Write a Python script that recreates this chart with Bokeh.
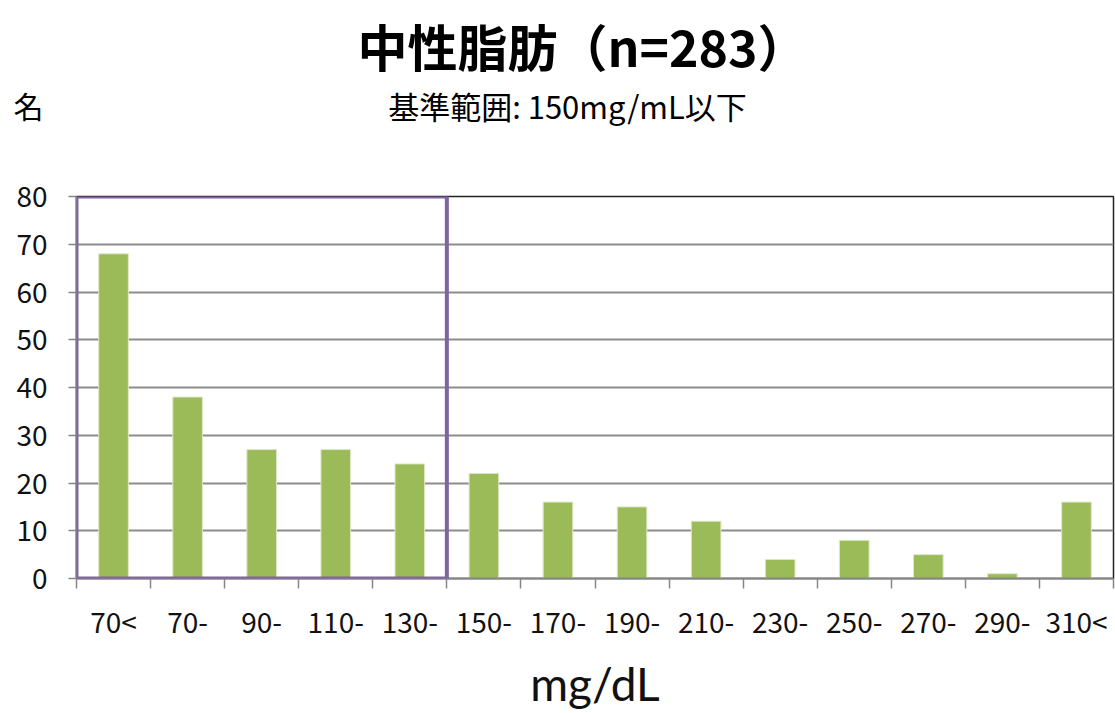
from bokeh.plotting import figure
from bokeh.models import Range1d, FixedTicker, BoxAnnotation, ColumnDataSource, Title
from bokeh.layouts import column
from bokeh.core.properties import value
from bokeh.embed import file_html
from bokeh.resources import INLINE

categories = ["70<", "70-", "90-", "110-", "130-", "150-", "170-", "190-", "210-", "230-", "250-", "270-", "290-", "310<"]
counts = [68, 38, 27, 27, 24, 22, 16, 15, 12, 4, 8, 5, 1, 16]
y_ticks = [0, 10, 20, 30, 40, 50, 60, 70, 80]
title_text = "中性脂肪（n=283）"
subtitle_text = "基準範囲: 150mg/mL以下"
y_unit = "名"
x_unit = "mg/dL"
ref_limit_category = "150-"

JP = "Noto Sans CJK JP"
NUM = "Noto Sans CJK JP"

W = 1115
LEFT, RIGHT = 76, 2
HEAD_TOP = 80
HEAD_H = 128

# ---------- header: main title (Title), subtitle (glyph), unit (axis label) ----------
head = figure(width=W, height=HEAD_H, output_backend="svg", toolbar_location=None,
              x_range=Range1d(LEFT, W - RIGHT), y_range=Range1d(HEAD_H, HEAD_TOP),
              min_border_left=LEFT, min_border_right=RIGHT,
              min_border_top=HEAD_TOP, min_border_bottom=0, x_axis_type=None)
head.outline_line_color = None
head.grid.grid_line_color = None
head.background_fill_color = "white"
head.border_fill_color = "white"
head.title = None
head.add_layout(Title(text=title_text, text_font=JP, text_font_size="50px",
                      text_font_style="bold", align="left", offset=281,
                      standoff=0, text_color="#000000"), "above")
head.text(x=[567], y=[105], text=[subtitle_text], text_font=value(JP), text_font_size="31px",
          text_align="center", text_baseline="middle", text_color="#000000")
hy = head.yaxis[0]
hy.ticker = FixedTicker(ticks=[])
hy.axis_line_color = None
hy.major_tick_line_color = None
hy.minor_tick_line_color = None
hy.axis_label = y_unit
hy.axis_label_orientation = "horizontal"
hy.axis_label_text_font = JP
hy.axis_label_text_font_style = "normal"
hy.axis_label_text_font_size = "30px"
hy.axis_label_text_color = "#000000"
hy.axis_label_standoff = 33

# ---------- chart ----------
n = len(categories)
xs = [i + 0.5 for i in range(n)]
src = ColumnDataSource(dict(x=xs, top=counts, cat=categories))

p = figure(width=W, height=713 - HEAD_H, output_backend="svg", toolbar_location=None,
           x_range=Range1d(0, n), y_range=Range1d(0, 80),
           min_border_left=LEFT, min_border_right=RIGHT,
           min_border_top=196 - HEAD_H, min_border_bottom=135)
p.background_fill_color = "white"
p.border_fill_color = "white"
p.outline_line_color = "#222222"
p.outline_line_width = 1.5

p.vbar(x="x", top="top", width=0.4, bottom=0, source=src,
       fill_color="#9BBB59", line_color="#DDE8C8", line_width=1)

xa = p.xaxis[0]
xa.ticker = FixedTicker(ticks=xs, minor_ticks=list(range(n + 1)))
xa.major_label_overrides = {x: c for x, c in zip(xs, categories)}
xa.major_tick_out = 0
xa.major_tick_in = 0
xa.minor_tick_out = 10
xa.minor_tick_in = 0
xa.minor_tick_line_color = "#868686"
xa.minor_tick_line_width = 1.5
xa.axis_line_color = "#868686"
xa.axis_line_width = 2
xa.major_label_standoff = 12
xa.major_label_text_font = NUM
xa.major_label_text_font_size = "28px"
xa.major_label_text_color = "#111111"
xa.axis_label = x_unit
xa.axis_label_text_font = "Lato"
xa.axis_label_text_font_style = "normal"
xa.axis_label_text_font_size = "46px"
xa.axis_label_text_color = "#111111"
xa.axis_label_standoff = 12

ya = p.yaxis[0]
ya.ticker = FixedTicker(ticks=y_ticks)
ya.major_tick_out = 8
ya.major_tick_in = 0
ya.major_tick_line_color = "#868686"
ya.major_tick_line_width = 1.5
ya.minor_tick_line_color = None
ya.axis_line_color = "#868686"
ya.axis_line_width = 2
ya.major_label_standoff = 21
ya.major_label_text_font = NUM
ya.major_label_text_font_size = "28px"
ya.major_label_text_color = "#111111"

p.xgrid.grid_line_color = None
p.ygrid.ticker = FixedTicker(ticks=y_ticks)
p.ygrid.grid_line_color = "#8C8C8C"
p.ygrid.grid_line_width = 2

limit_idx = categories.index(ref_limit_category)
p.add_layout(BoxAnnotation(left=0, right=limit_idx, bottom=0, top=max(y_ticks),
                           fill_alpha=0, line_color="#8064A2", line_alpha=1.0,
                           line_width=4, level="overlay"))

layout = column(head, p, spacing=0)
open("out.html", "w").write(file_html(layout, INLINE))
